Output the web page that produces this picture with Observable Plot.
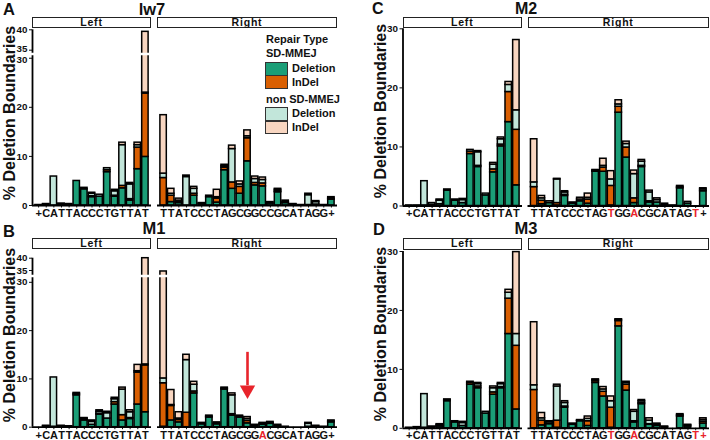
<!DOCTYPE html>
<html><head><meta charset="utf-8">
<script src="https://cdn.jsdelivr.net/npm/d3@7"></script>
<script src="https://cdn.jsdelivr.net/npm/@observablehq/plot@0.6"></script>
<style>
body{margin:0;background:#fff;}
#root{position:relative;width:710px;height:440px;overflow:hidden;font-family:"Liberation Sans",Arial,sans-serif;color:#111;background:#fff;}
.t{position:absolute;white-space:nowrap;line-height:1;font-weight:bold;}
.strip{position:absolute;box-sizing:border-box;border:1px solid #222;background:#fff;font-weight:bold;font-size:10.5px;letter-spacing:0.8px;text-align:center;color:#111;}
.box{position:absolute;box-sizing:border-box;border:1px solid #333;}
.layer{position:absolute;left:0;}
</style></head><body><div id="root"></div><script>
// ---------- data ----------
const types = ["SD-MMEJ Deletion", "SD-MMEJ InDel", "non SD-MMEJ Deletion", "non SD-MMEJ InDel"];
const typeColors = ["#1b9e77", "#d95f02", "#c2e6da", "#f8d6c1"];

const seqLeft = "+CATTACCCTGTTAT".split("");
const seqRightLw7 = "TTATCCCTAGCGGCCGCATAGG+".split("");
const seqRightM1 = "TTATCCCTAGCGGACGCATAGG+".split("");
const seqRightM2 = "TTATCCCTAGTGGACGCATAGT+".split("");
const seqRightM3 = "TTATCCCTAGTGGACGCATAGT+".split("");
const redLw7 = [], redM1 = [13], redM2 = [10, 13, 21], redM3 = [10, 13, 21, 22];

// lw7
const lw7LeftDel      = [0.1, 0.2, 0, 0.2, 0.2, 5.0, 3.3, 1.7, 1.8, 6.8, 1.8, 3.5, 1.0, 7.4, 9.9];
const lw7LeftIndel    = [0, 0, 0, 0, 0, 0, 0, 0.2, 0, 0.4, 0.2, 0.5, 0.3, 4.4, 12.9];
const lw7LeftNonDel   = [0, 0.1, 5.9, 0.2, 0.1, 0, 0.3, 0.5, 0.4, 0.4, 0.9, 8.3, 3.0, 0.5, 0.2];
const lw7LeftNonIndel = [0, 0, 0, 0, 0, 0, 0, 0.2, 0, 0, 0.3, 0.5, 0.3, 0.5, 16.5];
const lw7RightDel      = [0, 0.7, 0.5, 0, 2.0, 0.3, 1.7, 0.6, 7.2, 3.4, 2.4, 9.0, 4.1, 3.9, 0.4, 2.7, 0.5, 0.2, 0.1, 0.1, 0.2, 0.1, 1.2];
const lw7RightIndel    = [5.6, 1.3, 0.2, 0, 0.4, 0, 0, 0.8, 0.5, 1.3, 1.4, 4.7, 0.5, 0.6, 0, 0.2, 0.2, 0, 0, 0, 0, 0, 0.2];
const lw7RightNonDel   = [0.9, 0.4, 0.3, 5.8, 1.0, 0.2, 0.3, 0.3, 0.3, 6.8, 0.5, 0.4, 0.8, 0.7, 0.3, 0.3, 0.3, 0.1, 0, 2.0, 0.5, 0, 0.3];
const lw7RightNonIndel = [11.9, 1.0, 0.4, 0.3, 0.4, 0, 0, 1.5, 0.3, 0.7, 0.6, 1.2, 0.5, 0.5, 0, 0.2, 0, 0, 0, 0.3, 0.2, 0, 0];

// M1
const m1LeftDel      = [0, 0.2, 0.1, 0.2, 0.1, 6.6, 1.4, 0.5, 2.6, 1.8, 4.7, 1.4, 1.7, 4.7, 3.1];
const m1LeftIndel    = [0, 0, 0, 0, 0, 0, 0.2, 0, 0.2, 0, 0.5, 1.1, 0.2, 6.6, 9.7];
const m1LeftNonDel   = [0, 0.1, 10.2, 0.1, 0.1, 0.3, 0.2, 0.6, 0.4, 1.1, 0.6, 5.3, 1.2, 0.3, 0.2];
const m1LeftNonIndel = [0, 0, 0, 0, 0, 0.2, 0.1, 0.3, 0.3, 0.3, 0.3, 0.4, 0.4, 1.3, 27.0];
const m1RightDel      = [0.1, 1.4, 1.0, 0, 7.0, 0.6, 2.0, 0.6, 7.8, 2.4, 2.0, 0.8, 0.3, 0.5, 0.7, 0.3, 0.1, 0, 0, 0.1, 0.1, 0.1, 1.0];
const m1RightIndel    = [9.0, 3.0, 0.5, 3.0, 0.4, 0, 0, 0, 0, 0.3, 0, 0.5, 0, 0, 0, 0, 0, 0, 0, 0, 0, 0, 0];
const m1RightNonDel   = [1.0, 0.2, 0.3, 10.9, 1.4, 0.2, 0.2, 0.2, 0.2, 3.9, 0.2, 0.4, 0.2, 0.2, 0.2, 0.2, 0, 0, 0, 0.6, 0.2, 0, 0.2];
const m1RightNonIndel = [24.5, 3.1, 1.3, 1.1, 0.6, 0.1, 0.2, 0.2, 0.2, 0.4, 0.2, 0.4, 0, 0.2, 0.2, 0, 0, 0, 0, 0.2, 0, 0, 0.2];

// M2
const m2LeftDel      = [0.1, 0.1, 0.1, 0.2, 0.3, 2.6, 0.9, 0.5, 8.8, 6.6, 1.8, 5.7, 10.1, 14.2, 3.5];
const m2LeftIndel    = [0, 0, 0, 0, 0, 0, 0, 0, 0.4, 0.2, 0, 0.5, 0.3, 5.1, 9.4];
const m2LeftNonDel   = [0, 0, 4.1, 0.3, 0.6, 0.2, 0.2, 0.5, 0.3, 2.3, 0.3, 0.8, 0.9, 1.2, 3.3];
const m2LeftNonIndel = [0, 0, 0, 0, 0.2, 0, 0, 0.2, 0, 0.2, 0, 0.3, 0.3, 0.5, 11.9];
const m2RightDel      = [0, 0.3, 0.5, 0.1, 1.7, 0.4, 0.8, 0.4, 5.8, 5.8, 0.1, 15.8, 8.2, 0.5, 6.6, 0.6, 0.6, 0.2, 0.1, 3.0, 0.4, 0, 2.5];
const m2RightIndel    = [3.2, 0.6, 0, 0.4, 0.2, 0, 0, 0.7, 0.1, 0.7, 3.3, 1.0, 1.7, 0.8, 0.2, 0.2, 0, 0, 0, 0, 0, 0, 0];
const m2RightNonDel   = [0.8, 0.4, 0.3, 4.0, 0.4, 0.2, 0.3, 0.3, 0.1, 0.3, 1.1, 0.4, 0.6, 4.1, 0.7, 1.5, 0.4, 0.2, 0, 0.2, 0.3, 0, 0.3];
const m2RightNonIndel = [7.3, 0.4, 0, 0.1, 0.2, 0, 0.3, 0.7, 0.1, 1.2, 1.4, 0.7, 0.4, 0.6, 0.3, 0.3, 0.3, 0, 0, 0.2, 0, 0, 0.2];

// M3
const m3LeftDel      = [0.1, 0.2, 0.1, 0.2, 0.3, 4.6, 1.0, 0.4, 7.4, 6.8, 2.5, 5.7, 6.8, 16.0, 3.2];
const m3LeftIndel    = [0, 0, 0, 0, 0, 0, 0, 0, 0.3, 0.3, 0, 0.4, 0.2, 6.0, 10.8];
const m3LeftNonDel   = [0, 0, 5.7, 0.1, 0.2, 0.2, 0.2, 0.5, 0.2, 0.4, 0.3, 0.7, 0.5, 1.0, 2.0];
const m3LeftNonIndel = [0, 0, 0, 0, 0.2, 0.1, 0, 0.2, 0, 0.2, 0, 0.3, 0.2, 0.5, 13.9];
const m3RightDel      = [0, 0.5, 0.7, 0.1, 3.5, 0.6, 1.2, 0.4, 7.7, 5.4, 0.1, 17.3, 6.4, 1.0, 4.1, 0.6, 0.4, 0.2, 0, 2.0, 0.3, 0, 0.8];
const m3RightIndel    = [6.5, 0.8, 0, 1.2, 0.2, 0, 0, 0.8, 0.3, 0.8, 3.4, 0.9, 1.0, 0.2, 0.2, 0.1, 0, 0, 0, 0, 0, 0, 0.3];
const m3RightNonDel   = [0.8, 0.4, 0.3, 5.8, 0.6, 0.1, 0.1, 0.4, 0.2, 0.4, 1.1, 0.2, 0.3, 1.6, 0.3, 0.6, 0.2, 0.1, 0, 0.2, 0.2, 0, 0.3];
const m3RightNonIndel = [10.7, 0.9, 0.2, 0.3, 0.3, 0.1, 0.1, 0.4, 0.1, 0.4, 0.8, 0.1, 0.2, 0.3, 0.2, 0.4, 0.2, 0, 0, 0.2, 0.1, 0, 0.3];

const yTicksBroken = [0, 10, 20, 30, 35, 40];
const yTicksPlain = [0, 10, 20, 30];
const arrowM1 = {band: 11, from: 15.5, headBase: 8.6, head: 7.7};

// ---------- layout ----------
const RED = "#e8242b";
const FONT = "'Liberation Sans', Arial, sans-serif";
const root = document.getElementById("root");

function addText(txt, x, baseline, size, opts = {}) {
  const d = document.createElement("div");
  d.className = "t";
  d.textContent = txt;
  d.style.fontSize = size + "px";
  d.style.top = (baseline - 0.8465 * size) + "px";
  d.style.left = x + "px";
  if (opts.center) d.style.transform = "translateX(-50%)";
  root.appendChild(d);
}
function addYLabel(cx, cy) {
  const d = document.createElement("div");
  d.className = "t";
  d.textContent = "% Deletion Boundaries";
  d.style.fontSize = "16px";
  d.style.left = cx + "px";
  d.style.top = cy + "px";
  d.style.transform = "translate(-50%,-50%) rotate(-90deg)";
  root.appendChild(d);
}
function addStrip(txt, x0, x1, top) {
  const d = document.createElement("div");
  d.className = "strip";
  d.textContent = txt;
  d.style.left = x0 + "px"; d.style.width = (x1 - x0) + "px";
  d.style.top = top + "px"; d.style.height = "11.6px"; d.style.lineHeight = "9.6px";
  root.appendChild(d);
}
function addBox(x, y, w, h, color) {
  const d = document.createElement("div");
  d.className = "box";
  Object.assign(d.style, {left: x + "px", top: y + "px", width: w + "px", height: h + "px", background: color});
  root.appendChild(d);
}

function facetPlot(p, f, isLeft, arrow) {
  const n = f.seq.length;
  // broken-axis mapping (value -> pixel height above zero)
  const brk = d3.scaleLinear().domain(p.yBreakDomain).range(p.yBreakDomain.map(v => p.zero - p.yPix(v)));
  const topVal = p.yBreakDomain[p.yBreakDomain.length - 1];
  const rows = [];
  for (let i = 0; i < n; i++) {
    let cum = 0;
    types.forEach((t, k) => {
      const v = f.values[k][i];
      if (v > 0) rows.push({i, type: t, y1: brk(cum), y2: brk(cum + v)});
      cum += v;
    });
  }
  const labels = f.seq.map((ch, i) => ({i, ch, base: 0, red: f.red.includes(i)}));
  const xMin = -0.8, xMax = n - 0.2;
  const tickPos = p.yTicks.map(v => brk(v));
  const yLabels = p.yTicks.map(v => ({x: xMin, y: brk(v), text: String(v), nudge: (p.tickNudge && p.tickNudge[v]) || 0}));
  const marks = [
    Plot.rectY(rows, {x1: d => d.i - 0.42, x2: d => d.i + 0.42, y1: "y1", y2: "y2", fill: "type", stroke: "#000", strokeWidth: 1.5}),
    Plot.ruleY([0], {stroke: "#000", strokeWidth: 1.8}),
    Plot.text(labels, {x: "i", y: "base", text: "ch", fill: d => d.red ? RED : "#111", dy: p.labelDy, lineAnchor: "top", fontSize: 11, fontWeight: "bold"})
  ];
  if (isLeft) {
    marks.push(Plot.ruleX([{x: xMin, y1: 0, y2: brk(topVal)}], {x: "x", y1: "y1", y2: "y2", stroke: "#000", strokeWidth: 1.8}));
    for (const l of yLabels) {
      marks.push(Plot.text([l], {x: "x", y: "y", text: "text", textAnchor: "end", dx: -5, dy: l.nudge, fontSize: 9.8, fontWeight: "bold", fill: "#111"}));
    }
  }
  if (p.breakAt != null) marks.push(Plot.ruleY([brk(p.breakAt)], {stroke: "#fff", strokeWidth: 2.6, insetLeft: isLeft ? -5 : 0}));
  if (arrow) {
    marks.push(Plot.ruleX([{x: arrow.band, y1: brk(arrow.from), y2: brk(arrow.headBase)}], {x: "x", y1: "y1", y2: "y2", stroke: RED, strokeWidth: 2.6}));
    marks.push(Plot.dot([{x: arrow.band, y: brk(arrow.head)}], {x: "x", y: "y", symbol: "triangle", rotate: 180, r: 5.7, fill: RED, stroke: "none"}));
  }
  const H = p.height;
  const svg = Plot.plot({
    width: 710, height: H,
    marginLeft: f.x0, marginRight: 710 - f.x1, marginTop: 0, marginBottom: H - p.zero,
    x: {domain: [xMin, xMax], axis: "bottom", ticks: d3.range(n), tickSize: 2.5, tickFormat: () => "", label: null},
    y: {domain: [0, brk(topVal)], range: [p.zero, p.zero - brk(topVal)], axis: isLeft ? "left" : null, ticks: tickPos, tickFormat: () => "", tickSize: 3, label: null},
    color: {domain: types, range: typeColors},
    style: {background: "transparent", fontFamily: FONT, fontSize: "9.8px", fontWeight: "bold", overflow: "visible", color: "#111"},
    marks
  });
  svg.classList.add("layer");
  svg.style.top = p.top + "px";
  root.appendChild(svg);
}

function panel(p) {
  facetPlot(p, p.left, true, null);
  facetPlot(p, p.right, false, p.arrow);
  addStrip("Left", p.left.x0, p.left.x1, p.stripTop);
  addStrip("Right", p.right.x0, p.right.x1, p.stripTop);
}
// pixel (within panel svg) of a value on a broken axis
function brokenPix(zero, L, yL, U, yU, top, yTop) {
  return v => v <= L ? zero + (yL - zero) * v / L
            : v <= U ? yL + (yU - yL) * (v - L) / (U - L)
            : yU + (yTop - yU) * (v - U) / (top - U);
}

panel({
  top: 0, height: 220, zero: 205, labelDy: 3.5,
  yBreakDomain: [0, 30.7, 34.26, 40], yPix: brokenPix(205, 30.7, 54.3, 34.26, 52.7, 40, 29.3),
  yTicks: yTicksBroken, tickNudge: {35: -1.5, 30: 1.5}, breakAt: 32.5, stripTop: 16.7,
  left: {x0: 32, x1: 151, seq: seqLeft, red: [], values: [lw7LeftDel, lw7LeftIndel, lw7LeftNonDel, lw7LeftNonIndel]},
  right: {x0: 157, x1: 337, seq: seqRightLw7, red: redLw7, values: [lw7RightDel, lw7RightIndel, lw7RightNonDel, lw7RightNonIndel]}
});
panel({
  top: 220, height: 220, zero: 206.7, labelDy: 4,
  yBreakDomain: [0, 31.06, 33.25, 40], yPix: brokenPix(206.7, 31.06, 56.7, 33.25, 54.3, 40, 37.7),
  yTicks: yTicksBroken, breakAt: 32.2, stripTop: 237.7, arrow: arrowM1,
  left: {x0: 32, x1: 151, seq: seqLeft, red: [], values: [m1LeftDel, m1LeftIndel, m1LeftNonDel, m1LeftNonIndel]},
  right: {x0: 157, x1: 337, seq: seqRightM1, red: redM1, values: [m1RightDel, m1RightIndel, m1RightNonDel, m1RightNonIndel]}
});
panel({
  top: 0, height: 220, zero: 205.5, labelDy: 3.5,
  yBreakDomain: [0, 30], yPix: v => 205.5 + (28.3 - 205.5) * v / 30,
  yTicks: yTicksPlain, breakAt: null, stripTop: 16.7,
  left: {x0: 402.5, x1: 522, seq: seqLeft, red: [], values: [m2LeftDel, m2LeftIndel, m2LeftNonDel, m2LeftNonIndel]},
  right: {x0: 527.5, x1: 709, seq: seqRightM2, red: redM2, values: [m2RightDel, m2RightIndel, m2RightNonDel, m2RightNonIndel]}
});
panel({
  top: 220, height: 220, zero: 207.8, labelDy: 2.5,
  yBreakDomain: [0, 30], yPix: v => 207.8 + (31 - 207.8) * v / 30,
  yTicks: yTicksPlain, breakAt: null, stripTop: 238.3,
  left: {x0: 402.5, x1: 522, seq: seqLeft, red: [], values: [m3LeftDel, m3LeftIndel, m3LeftNonDel, m3LeftNonIndel]},
  right: {x0: 527.5, x1: 709, seq: seqRightM3, red: redM3, values: [m3RightDel, m3RightIndel, m3RightNonDel, m3RightNonIndel]}
});

// titles & letters
addText("A", 3, 15, 16.5);
addText("B", 3, 237, 16.5);
addText("C", 372, 14.2, 16);
addText("D", 373, 235, 16.5);
addText("lw7", 152, 15, 16.5, {center: true});
addText("M1", 154, 233.5, 16.5, {center: true});
addText("M2", 526, 14.2, 16, {center: true});
addText("M3", 526, 234, 16.5, {center: true});
addYLabel(9.5, 112.5);
addYLabel(9.5, 335);
addYLabel(381.2, 111);
addYLabel(381.2, 334);

// legend
addText("Repair Type", 266, 43.3, 11);
addText("SD-MMEJ", 266, 57.3, 11);
addBox(265, 61.7, 23.3, 13.9, typeColors[0]);
addBox(265, 75.3, 23.3, 13.9, typeColors[1]);
addText("Deletion", 292, 72.5, 11);
addText("InDel", 292, 86.5, 11);
addText("non SD-MMEJ", 266, 103.3, 11);
addBox(265, 107, 23.3, 13.9, typeColors[2]);
addBox(265, 120.6, 23.3, 13.9, typeColors[3]);
addText("Deletion", 292, 117.5, 11);
addText("InDel", 292, 131.5, 11);
</script></body></html>
